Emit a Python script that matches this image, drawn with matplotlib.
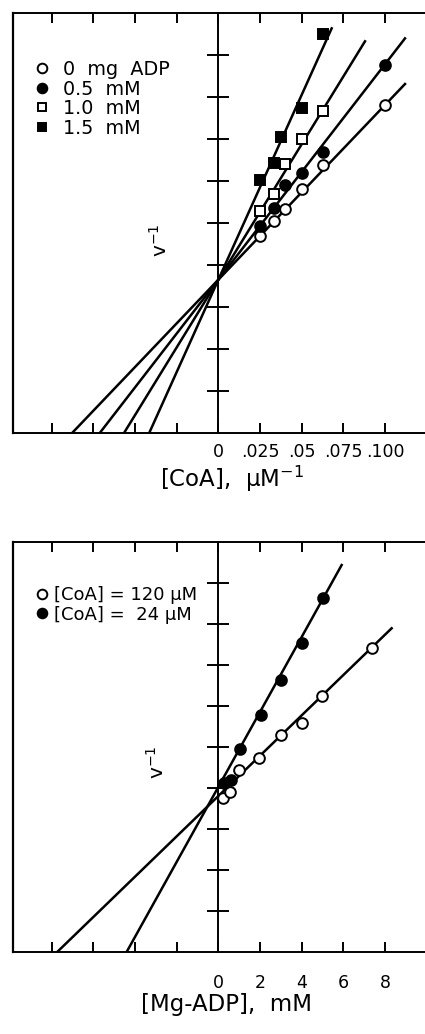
import matplotlib
matplotlib.use("Agg")
import matplotlib.pyplot as plt
import numpy as np

plt.rcParams['font.family'] = ['DejaVu Sans']
plt.rcParams['mathtext.fontset'] = 'dejavusans'

# ---------------- Top panel data: v^-1 vs 1/[CoA] ----------------
top_labels = ["0  mg  ADP", "0.5  mM", "1.0  mM", "1.5  mM"]
top_markers = ["o", "o", "s", "s"]
top_filled = [False, True, False, True]
top_x = [
    [0.025, 0.0333, 0.040, 0.050, 0.0625, 0.100],
    [0.025, 0.0333, 0.040, 0.050, 0.0625, 0.100],
    [0.025, 0.0333, 0.040, 0.050, 0.0625],
    [0.025, 0.0333, 0.0375, 0.050, 0.0625],
]
top_y = [
    [4.70, 5.04, 5.33, 5.80, 6.37, 7.81],
    [4.92, 5.36, 5.91, 6.20, 6.70, 8.76],
    [5.28, 5.69, 6.40, 7.00, 7.67],
    [6.03, 6.43, 7.04, 7.73, 9.51],
]
top_intercept = [3.65, 3.65, 3.65, 3.65]
top_slope = [41.6, 51.3, 64.5, 88.0]
top_line_start = [-0.10, -0.10, -0.10, -0.10]
top_line_end = [0.112, 0.112, 0.088, 0.068]
top_xticks = [-0.1, -0.075, -0.05, -0.025, 0.0, 0.025, 0.05, 0.075, 0.1]
top_xticklabels = ["", "", "", "", "0", ".025", ".05", ".075", ".100"]
top_yticks = [1, 2, 3, 4, 5, 6, 7, 8, 9]

# ---------------- Bottom panel data: v^-1 vs [Mg-ADP] ----------------
bot_labels = ["[CoA] = 120 μM", "[CoA] =  24 μM"]
bot_filled = [False, True]
bot_x = [
    [0.24, 0.56, 0.98, 1.97, 3.01, 4.00, 4.96, 7.36],
    [0.27, 0.59, 1.04, 2.05, 3.01, 4.03, 5.01],
]
bot_y = [
    [3.75, 3.90, 4.44, 4.72, 5.29, 5.59, 6.23, 7.42],
    [4.13, 4.18, 4.94, 5.78, 6.63, 7.54, 8.64],
]
bot_intercept = [3.80, 4.02]
bot_slope = [0.4916, 0.914]
bot_line_start = [-8.5, -5.0]
bot_line_end = [8.32, 5.92]
bot_xticks = [-8, -6, -4, -2, 0, 2, 4, 6, 8]
bot_xticklabels = ["", "", "", "", "0", "2", "4", "6", "8"]
bot_yticks = [1, 2, 3, 4, 5, 6, 7, 8, 9]

W, H = 425, 1034
fig = plt.figure(figsize=(W / 100, H / 100), dpi=100)


def px_axes(left, top, right, bottom):
    return fig.add_axes([left / W, 1 - bottom / H, (right - left) / W, (bottom - top) / H])


def style_axes(ax, xticks, xticklabels, yticks, pad):
    ax.spines['right'].set_visible(False)
    ax.spines['left'].set_position(('data', 0))
    for s in ['left', 'top', 'bottom']:
        ax.spines[s].set_linewidth(1.4)
    ax.set_xticks(xticks)
    ax.set_xticklabels(xticklabels, fontsize=12.5)
    ax.xaxis.set_ticks_position('both')
    ax.tick_params(axis='x', direction='in', length=7.5, width=1.4, pad=pad)
    ax.set_yticks(yticks)
    ax.tick_params(axis='y', direction='inout', length=16.5, width=1.4, labelleft=False)
    # left frame edge
    ax.plot([0, 0], [0, 1], transform=ax.transAxes, color='black', lw=1.6, clip_on=False)


def draw_series(ax, xs, ys, marker, filled, label, ms):
    ax.plot(xs, ys, linestyle='none', marker=marker, ms=ms,
            markerfacecolor='black' if filled else 'white',
            markeredgecolor='black', markeredgewidth=1.4, label=label, zorder=4)


# ---------------- Top panel ----------------
ax1 = px_axes(13, 13, 425, 433)
ax1.set_xlim(-0.1232, 0.124)
ax1.set_ylim(0, 10)
style_axes(ax1, top_xticks, top_xticklabels, top_yticks, pad=7.5)
for i in range(4):
    xl = np.array([top_line_start[i], top_line_end[i]])
    ax1.plot(xl, top_intercept[i] + top_slope[i] * xl, color='black', lw=1.8, zorder=3)
    ms = 7.7 if top_markers[i] == 'o' else 6.8
    draw_series(ax1, top_x[i], top_y[i], top_markers[i], top_filled[i], top_labels[i], ms)
leg1 = ax1.legend(loc='upper left', bbox_to_anchor=(0.048, 0.888), frameon=False,
                  fontsize=13.8, handlelength=1.0, handletextpad=0.6, labelspacing=0.03,
                  borderpad=0, borderaxespad=0, markerscale=0.9)
ax1.text(0.376, 0.768, r"v$^{-1}$", transform=fig.transFigure, rotation=90,
         ha='center', va='center', fontsize=14.5)
fig.text(232 / W, 1 - 479 / H, r"[CoA],  μM$^{-1}$", ha='center', va='center', fontsize=16.5)

# ---------------- Bottom panel ----------------
ax2 = px_axes(13, 541.7, 425, 952)
ax2.set_xlim(-9.85, 9.92)
ax2.set_ylim(0, 10)
style_axes(ax2, bot_xticks, bot_xticklabels, bot_yticks, pad=16)
for i in range(2):
    xl = np.array([bot_line_start[i], bot_line_end[i]])
    ax2.plot(xl, bot_intercept[i] + bot_slope[i] * xl, color='black', lw=1.8, zorder=3)
    draw_series(ax2, bot_x[i], bot_y[i], 'o', bot_filled[i], bot_labels[i], 7.7)
leg2 = ax2.legend(loc='upper left', bbox_to_anchor=(0.048, 0.892), frameon=False,
                  fontsize=13, handlelength=1.0, handletextpad=0.2, labelspacing=0.1,
                  borderpad=0, borderaxespad=0, markerscale=0.9)
ax2.text(157 / W, 1 - 762 / H, r"v$^{-1}$", transform=fig.transFigure, rotation=90,
         ha='center', va='center', fontsize=14.5)
fig.text(227 / W, 1 - 1004 / H, "[Mg-ADP],  mM", ha='center', va='center', fontsize=16.5)

fig.savefig("out.png", dpi=100)
